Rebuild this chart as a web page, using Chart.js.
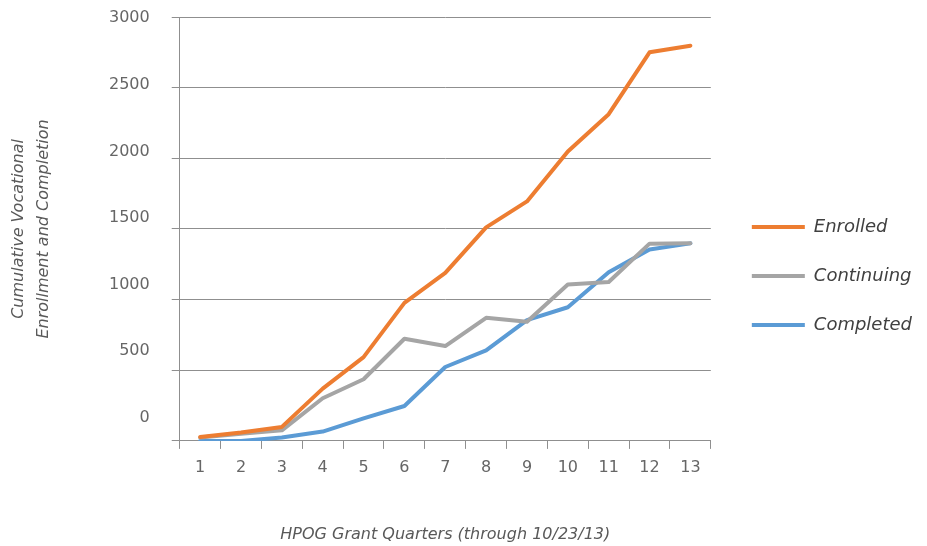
<!DOCTYPE html>
<html><head><meta charset="utf-8">
<script src="https://cdn.jsdelivr.net/npm/chart.js@4/dist/chart.umd.min.js"></script>
<style>html,body{margin:0;padding:0;background:#fff}</style>
</head><body>
<canvas id="c" width="927" height="546"></canvas>
<script>
const quarters = ['1','2','3','4','5','6','7','8','9','10','11','12','13'];
const enrolled = [28,59,99,370,593,977,1189,1511,1695,2048,2312,2750,2797];
const continuing = [24,50,75,302,436,723,671,871,843,1107,1125,1396,1398];
const completed = [0,0,24,66,160,247,523,641,855,946,1194,1354,1398];
const yTickValues = [0,500,1000,1500,2000,2500,3000];
const seriesNames = ['Enrolled','Continuing','Completed'];
const seriesColors = ['#ED7D31','#A5A5A5','#5B9BD5'];

const FONT = 'DejaVu Sans';
const gridColor = '#8f8f8f';

const legendShift = {
  id: 'legendShift',
  afterLayout(chart) {
    if (chart.legend) { chart.legend.left += 10; chart.legend.right += 10; }
  }
};

const mk = (label, data, color) => ({
  label, data, borderColor: color, backgroundColor: color,
  borderWidth: 4, pointRadius: 0, tension: 0, borderCapStyle: 'round', borderJoinStyle: 'round', yAxisID: 'y'
});

new Chart(document.getElementById('c'), {
  type: 'line',
  data: {
    labels: quarters,
    datasets: [
      mk(seriesNames[0], enrolled, seriesColors[0]),
      mk(seriesNames[1], continuing, seriesColors[1]),
      mk(seriesNames[2], completed, seriesColors[2])
    ]
  },
  plugins: [legendShift],
  options: {
    responsive: false,
    animation: false,
    devicePixelRatio: 1,
    layout: { padding: { top: 17, left: 6, right: 15, bottom: 11 } },
    plugins: {
      tooltip: { enabled: false },
      legend: {
        position: 'right',
        align: 'center',
        maxWidth: 230,
        labels: {
          boxWidth: 53, boxHeight: 4, padding: 31,
          color: '#404040',
          font: { family: FONT, size: 18, style: 'italic' },
          generateLabels(chart) {
            return Chart.defaults.plugins.legend.labels.generateLabels(chart).map(l => ({...l, lineWidth: 0, fillStyle: l.strokeStyle}));
          }
        }
      }
    },
    scales: {
      x: {
        offset: true,
        grid: { offset: true, drawOnChartArea: false, drawTicks: true, tickLength: 8, color: gridColor },
        border: { color: gridColor },
        ticks: { color: '#666', padding: 9, font: { family: FONT, size: 16 } },
        title: {
          display: true, text: 'HPOG Grant Quarters (through 10/23/13)', color: '#595959',
          font: { family: FONT, size: 16, style: 'italic' },
          padding: { top: 39.3, bottom: -9.6 }
        }
      },
      y: {
        position: 'left', weight: 0,
        min: 0, max: 3000,
        ticks: { display: false, stepSize: 500 },
        grid: { color: gridColor, tickLength: 8, drawTicks: true },
        border: { color: gridColor },
        afterFit(axis) { axis.width = 30; }
      },
      y2: {
        position: 'left', weight: 1,
        min: -173, max: 3010,
        afterBuildTicks(axis) { axis.ticks = yTickValues.map(v => ({ value: v })); },
        grid: { display: false, drawTicks: false },
        border: { display: false },
        ticks: { color: '#666', padding: 0, font: { family: FONT, size: 16 }, callback: (v) => String(v) },
        title: {
          display: true, text: ['Cumulative Vocational', 'Enrollment and Completion'], color: '#595959',
          font: { family: FONT, size: 16, style: 'italic', lineHeight: 1.5625 },
          padding: { top: 0, bottom: 53 }
        }
      }
    }
  }
});
</script>
</body></html>
